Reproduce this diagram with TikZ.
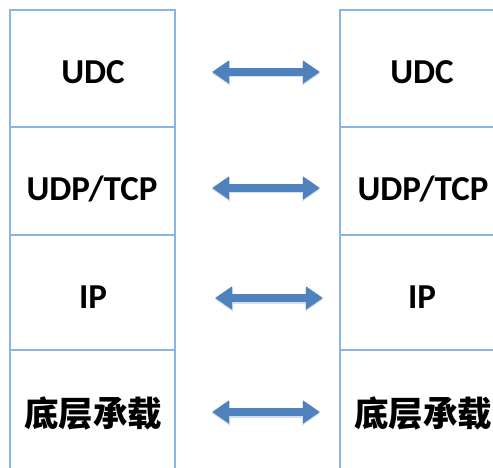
\documentclass[tikz,border=0pt]{standalone}
\usepackage{fontspec}
\setmainfont{Carlito}
\newfontfamily\cjk{Noto Sans CJK SC}
\usetikzlibrary{arrows.meta}
\definecolor{boxline}{HTML}{8DB3E2}
\definecolor{arrowblue}{HTML}{4F81BD}
\definecolor{shadowblue}{HTML}{D3DEEE}
\tikzset{
  boxedge/.style={draw=boxline, line width=1.4pt},
  lbl/.style={font=\fontsize{35}{38}\selectfont\bfseries, inner sep=0pt},
  cjklbl/.style={font=\cjk\fontsize{34.5}{38}\selectfont\bfseries, inner sep=0pt},
  blockarrow/.style={draw=arrowblue, line width=7.5pt,
     {Triangle[length=17pt,width=22pt]}-{Triangle[length=17pt,width=22pt]}},
  shadowarrow/.style={draw=shadowblue, line width=8pt,
     {Triangle[length=18pt,width=23pt]}-{Triangle[length=18pt,width=23pt]}}
}
\begin{document}
\begin{tikzpicture}[x=1pt,y=-1pt]
\useasboundingbox (0,0) rectangle (493,468);
\clip (0,0) rectangle (493,468);
\fill[white] (0,0) rectangle (493,468);
% left column
\draw[boxedge] (10,480) -- (10,10) -- (175,10) -- (175,480);
\draw[boxedge] (10,127) -- (175,127);
\draw[boxedge] (10,235) -- (175,235);
\draw[boxedge] (10,350) -- (175,350);
% right column
\draw[boxedge] (500,10) -- (340,10) -- (340,480);
\draw[boxedge] (340,127) -- (500,127);
\draw[boxedge] (340,235) -- (500,235);
\draw[boxedge] (340,350) -- (500,350);
% labels
\node[lbl] (l1) at (93,72) {UDC};
\node[lbl] (l2) at (92,189) {UDP/TCP};
\node[lbl] (l3) at (93,297) {IP};
\node[cjklbl] (l4) at (93,413) {底层承载};
\node[lbl] (r1) at (422,72) {UDC};
\node[lbl] (r2) at (423,189) {UDP/TCP};
\node[lbl] (r3) at (422,297) {IP};
\node[cjklbl] (r4) at (423,413) {底层承载};
% arrows
\coordinate (a1l) at (212,72);  \coordinate (a1r) at (320,72);
\coordinate (a2l) at (212,188); \coordinate (a2r) at (320,188);
\coordinate (a3l) at (215,298); \coordinate (a3r) at (323,298);
\coordinate (a4l) at (212,412); \coordinate (a4r) at (320,412);
\foreach \a in {1,2,3,4}{
  \draw[shadowarrow, transform canvas={yshift=-1.5pt}] (a\a l) -- (a\a r);
  \draw[blockarrow] (a\a l) -- (a\a r);
}
\end{tikzpicture}
\end{document}
